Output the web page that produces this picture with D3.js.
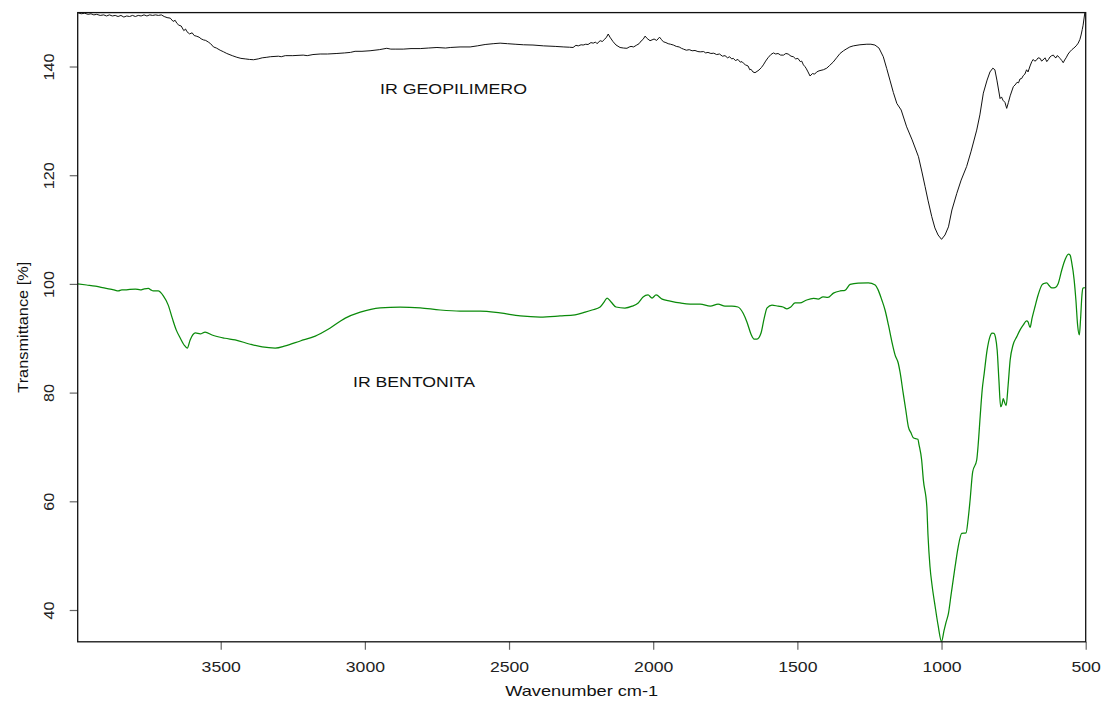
<!DOCTYPE html>
<html>
<head>
<meta charset="utf-8">
<script src="https://cdn.jsdelivr.net/npm/d3@7"></script>
<style>
  html, body { margin: 0; padding: 0; background: #fff; }
  svg { display: block; }
  text { font-family: "Liberation Sans", Arial, sans-serif; }
</style>
</head>
<body>
<svg id="chart" width="1113" height="704"></svg>
<script>
// IR spectra: geopolymer and bentonite, [wavenumber cm-1, transmittance %]
const geopolymerSpectrum = [
  [3996,149.9],[3984,149.7],[3972,149.8],[3960,149.6],[3950,149.7],[3940,149.5],[3930,149.6],[3918,149.4],
  [3906,149.5],[3896,149.3],[3886,149.5],[3876,149.3],[3866,149.4],[3856,149.2],[3846,149.4],[3836,149.1],
  [3826,149.3],[3816,149.2],[3806,149.4],[3796,149.2],[3786,149.4],[3776,149.3],[3766,149.5],[3756,149.3],
  [3746,149.5],[3736,149.4],[3726,149.5],[3716,149.4],[3706,149.5],[3696,149.2],[3686,149.0],[3675,148.9],
  [3665,148.3],[3658,148.5],[3652,147.95],[3645,147.6],[3637,147.45],[3628,146.6],[3622,146.9],[3617,146.4],
  [3608,146.0],[3599,146.2],[3592,145.7],[3585,145.6],[3575,145.4],[3568,145.1],[3560,144.9],[3552,144.8],
  [3543,144.5],[3535,144.2],[3525,143.6],[3515,143.4],[3502,143.0],[3490,142.7],[3479,142.4],[3460,142.0],
  [3444,141.7],[3430,141.5],[3415,141.4],[3400,141.3],[3386,141.25],[3370,141.4],[3356,141.6],[3340,141.7],
  [3328,141.8],[3300,141.9],[3290,141.8],[3276,142.0],[3250,142.0],[3214,142.1],[3200,142.0],[3180,142.2],
  [3155,142.3],[3130,142.3],[3097,142.4],[3070,142.5],[3050,142.6],[3034,142.8],[3010,142.8],[2982,142.9],
  [2950,143.1],[2924,143.35],[2910,143.2],[2895,143.2],[2867,143.2],[2840,143.3],[2808,143.3],[2780,143.4],
  [2750,143.5],[2720,143.4],[2704,143.5],[2670,143.6],[2635,143.6],[2610,143.8],[2583,144.05],[2555,144.2],
  [2531,144.3],[2505,144.2],[2479,144.1],[2450,144.0],[2417,143.95],[2380,143.8],[2340,143.7],[2310,143.6],
  [2290,143.55],[2278,143.5],[2268,143.9],[2260,143.8],[2250,144.0],[2243,143.95],[2234,144.1],[2226,144.05],
  [2216,144.4],[2208,144.3],[2200,144.5],[2195,144.2],[2184,144.75],[2176,144.6],[2170,144.97],[2163,145.3],
  [2156,145.98],[2150,145.4],[2139,144.56],[2129,143.96],[2115,143.5],[2103,143.4],[2091,143.35],[2083,143.6],
  [2077,143.7],[2068,143.6],[2057,143.95],[2049,144.2],[2042,144.69],[2035,145.0],[2028,145.6],[2021,145.15],
  [2011,144.75],[2004,144.9],[1997,145.06],[1988,144.8],[1978,145.4],[1972,145.0],[1965,144.56],[1956,144.4],
  [1948,144.2],[1940,144.1],[1930,143.95],[1920,143.7],[1910,143.6],[1902,143.35],[1895,143.2],[1885,143.0],
  [1875,143.1],[1865,142.9],[1855,142.95],[1845,142.75],[1837,142.7],[1825,142.75],[1818,142.5],[1810,142.6],
  [1800,142.4],[1790,142.45],[1780,142.2],[1770,142.3],[1760,141.9],[1751,142.0],[1742,141.6],[1735,141.8],
  [1728,141.4],[1722,141.5],[1715,141.1],[1706,141.3],[1698,140.8],[1692,140.9],[1687,140.6],[1680,140.3],
  [1671,140.1],[1665,139.4],[1661,139.5],[1654,139.0],[1647,138.86],[1640,139.1],[1633,139.36],[1625,139.8],
  [1618,140.3],[1610,141.0],[1602,141.6],[1592,142.2],[1583,142.5],[1575,142.3],[1567,142.4],[1558,142.1],
  [1548,142.1],[1540,142.4],[1532,142.3],[1522,141.9],[1514,141.8],[1506,141.4],[1498,141.5],[1490,140.9],
  [1485,141.0],[1479,140.3],[1474,140.0],[1470,139.7],[1463,139.0],[1456,138.25],[1448,138.7],[1440,138.6],
  [1433,139.0],[1425,139.2],[1418,139.3],[1410,139.4],[1398,139.7],[1388,140.2],[1376,140.8],[1364,141.6],
  [1352,142.4],[1340,142.9],[1331,143.2],[1318,143.6],[1306,143.8],[1283,144.0],[1259,144.1],[1245,144.1],
  [1231,143.95],[1217,143.4],[1202,141.8],[1190,139.6],[1179,137.5],[1167,135.2],[1155,133.2],[1140,132.0],
  [1121,128.9],[1102,126.5],[1080,123.4],[1068,120.6],[1057,117.9],[1047,115.4],[1034,112.4],[1023,110.3],
  [1012,109.0],[1000,108.2],[988,109.0],[976,110.5],[964,113.6],[947,116.67],[932,119.1],[913,121.6],
  [898,124.3],[878,128.3],[867,131.1],[855,135.1],[842,137.5],[832,139.0],[822,139.7],[815,139.4],
  [808,137.5],[797,134.1],[792,134.4],[787,133.8],[780,133.4],[774,132.3],[768,133.4],[762,134.6],
  [751,136.3],[745,136.6],[738,137.1],[733,137.0],[728,137.7],[722,137.8],[717,138.3],[711,138.6],
  [705,139.4],[700,139.0],[693,140.1],[687,140.9],[682,141.3],[677,141.0],[672,141.1],[665,141.6],
  [658,141.5],[653,141.0],[648,141.2],[641,141.6],[635,140.9],[629,141.3],[624,141.75],[618,142.0],
  [612,142.1],[607,141.7],[603,141.6],[599,142.0],[596,141.9],[592,141.7],[589,141.5],[583,141.1],
  [578,140.7],[573,141.2],[568,141.6],[561,142.3],[555,142.7],[548,143.1],[541,143.4],[533,143.8],
  [526,144.3],[520,145.0],[516,145.8],[512,146.8],[509,147.6],[503,149.9]
];

const bentoniteSpectrum = [
  [3996,100.0],[3965,99.8],[3935,99.6],[3910,99.3],[3883,99.06],[3870,98.9],[3855,98.7],[3843,98.9],
  [3831,98.9],[3815,99.0],[3796,99.06],[3779,98.9],[3765,99.1],[3751,99.2],[3742,98.9],[3734,98.7],
  [3717,98.7],[3699,97.8],[3682,96.1],[3668,93.7],[3654,91.5],[3640,90.0],[3627,88.76],[3616,88.2],
  [3606,89.7],[3588,90.97],[3571,90.8],[3554,91.15],[3530,90.6],[3485,90.0],[3450,89.7],[3398,88.9],
  [3356,88.4],[3311,88.2],[3276,88.6],[3224,89.5],[3172,90.4],[3120,91.9],[3068,93.7],[3016,94.8],
  [2947,95.6],[2878,95.75],[2808,95.6],[2739,95.2],[2670,95.0],[2600,95.0],[2531,94.65],[2461,94.1],
  [2392,93.9],[2323,94.1],[2271,94.3],[2236,94.8],[2212,95.2],[2184,95.75],[2170,96.7],[2160,97.4],
  [2146,96.67],[2129,95.75],[2098,95.56],[2073,95.9],[2052,96.5],[2035,97.6],[2018,97.96],[2004,97.4],
  [1990,97.96],[1969,97.2],[1941,96.85],[1907,96.5],[1872,96.3],[1837,96.3],[1802,95.9],[1775,96.3],
  [1751,95.9],[1727,95.9],[1706,95.75],[1688,94.6],[1675,93.0],[1661,90.8],[1650,89.86],[1640,89.86],
  [1626,90.97],[1615,93.7],[1605,95.6],[1588,96.1],[1567,95.9],[1550,95.75],[1536,95.4],[1523,95.75],
  [1508,96.5],[1491,96.5],[1470,97.0],[1444,97.35],[1428,97.2],[1411,97.6],[1394,97.5],[1375,98.3],
  [1352,98.7],[1335,98.8],[1317,99.9],[1289,100.16],[1254,100.2],[1230,99.8],[1220,98.9],[1207,97.03],
  [1196,95.2],[1184,92.4],[1172,89.3],[1161,86.9],[1150,85.4],[1144,83.8],[1133,79.9],[1124,76.8],
  [1115,73.7],[1106,72.6],[1098,71.7],[1082,71.4],[1078,70.4],[1069,67.6],[1063,63.9],[1051,59.0],
  [1047,53.8],[1040,47.97],[1033,44.6],[1022,40.6],[1012,37.2],[1000,34.2],[991,36.3],[984,37.8],
  [976,39.4],[967,42.77],[953,47.97],[943,51.4],[930,54.1],[915,54.2],[908,56.6],[901,60.2],
  [892,65.4],[878,67.6],[873,70.36],[866,75.6],[859,80.5],[852,83.55],[842,87.8],[832,90.3],
  [825,90.96],[818,90.9],[813,90.2],[807,87.8],[801,82.3],[795,77.4],[790,77.9],[786,78.9],
  [782,78.3],[776,77.6],[769,81.4],[762,86.0],[752,88.76],[739,90.3],[728,91.5],[717,92.4],
  [705,93.2],[700,93.0],[693,92.0],[686,93.7],[676,95.8],[665,97.96],[652,99.8],[645,100.07],
  [635,100.2],[627,99.7],[617,99.25],[606,99.3],[596,99.98],[583,102.56],[572,104.4],[560,105.5],
  [554,105.3],[549,104.08],[540,100.7],[534,97.03],[528,92.4],[522,90.6],[518,93.36],[513,97.96],
  [510,99.2],[503,99.3]
];

const xTicks = [3500, 3000, 2500, 2000, 1500, 1000, 500];
const yTicks = [40, 60, 80, 100, 120, 140];
const seriesLabels = ["IR GEOPILIMERO", "IR BENTONITA"];

const svg = d3.select("#chart");
const plot = { left: 77.7, right: 1085.7, top: 12.6, bottom: 641.8 };

const x = d3.scaleLinear().domain([3996, 500]).range([plot.left, plot.right]);
const y = d3.scaleLinear().domain([34.15, 149.92]).range([plot.bottom, plot.top]);

// clip the spectra to the plotting region
svg.append("defs").append("clipPath").attr("id", "plotClip")
  .append("rect")
  .attr("x", plot.left).attr("y", plot.top - 1)
  .attr("width", plot.right - plot.left).attr("height", plot.bottom - plot.top + 2);

const series = [
  { data: geopolymerSpectrum, color: "#111111", width: 1.0, curve: d3.curveLinear },
  { data: bentoniteSpectrum, color: "#0a8a0a", width: 1.25, curve: d3.curveMonotoneX }
];

const g = svg.append("g").attr("clip-path", "url(#plotClip)");
series.forEach(s => {
  const line = d3.line().x(d => x(d[0])).y(d => y(d[1])).curve(s.curve);
  g.append("path")
    .attr("d", line(s.data))
    .attr("fill", "none")
    .attr("stroke", s.color)
    .attr("stroke-width", s.width)
    .attr("stroke-linejoin", "round");
});

// axes
const xAxis = svg.append("g")
  .attr("transform", `translate(0,${plot.bottom})`)
  .call(d3.axisBottom(x).tickValues(xTicks).tickSize(8).tickSizeOuter(0).tickFormat(d3.format("d")));
xAxis.select(".domain").remove();
xAxis.selectAll(".tick line").attr("stroke", "#666").attr("stroke-width", 1.2);
xAxis.selectAll(".tick text")
  .attr("y", 30).attr("dy", null)
  .attr("font-size", 15)
  .attr("fill", "#222")
  .attr("textLength", d => String(d).length * 9.8)
  .attr("lengthAdjust", "spacingAndGlyphs");

const yAxis = svg.append("g")
  .attr("transform", `translate(${plot.left},0)`)
  .call(d3.axisLeft(y).tickValues(yTicks).tickSize(8).tickSizeOuter(0).tickFormat(d3.format("d")));
yAxis.select(".domain").remove();
yAxis.selectAll(".tick line").attr("stroke", "#666").attr("stroke-width", 1.2);
yAxis.selectAll(".tick text")
  .attr("x", null).attr("dy", null)
  .attr("transform", "translate(-24,0) rotate(-90)")
  .attr("text-anchor", "middle")
  .attr("font-size", 15)
  .attr("fill", "#222")
  .attr("textLength", d => String(d).length * 9)
  .attr("lengthAdjust", "spacingAndGlyphs");

// frame
svg.append("rect")
  .attr("x", plot.left).attr("y", plot.top)
  .attr("width", plot.right - plot.left).attr("height", plot.bottom - plot.top)
  .attr("fill", "none").attr("stroke", "#111").attr("stroke-width", 1.3);

// axis titles
svg.append("text")
  .attr("x", (plot.left + plot.right) / 2).attr("y", 696)
  .attr("text-anchor", "middle").attr("font-size", 15).attr("fill", "#111")
  .attr("textLength", 153).attr("lengthAdjust", "spacingAndGlyphs")
  .text("Wavenumber cm-1");

svg.append("text")
  .attr("transform", `translate(28,${(plot.top + plot.bottom) / 2}) rotate(-90)`)
  .attr("text-anchor", "middle").attr("font-size", 15).attr("fill", "#111")
  .attr("textLength", 131).attr("lengthAdjust", "spacingAndGlyphs")
  .text("Transmittance [%]");

// series annotations
svg.append("text")
  .attr("x", 380).attr("y", 94.3)
  .attr("font-size", 15).attr("fill", "#111")
  .attr("textLength", 147).attr("lengthAdjust", "spacingAndGlyphs")
  .text(seriesLabels[0]);

svg.append("text")
  .attr("x", 353).attr("y", 387)
  .attr("font-size", 15).attr("fill", "#111")
  .attr("textLength", 122).attr("lengthAdjust", "spacingAndGlyphs")
  .text(seriesLabels[1]);
</script>
</body>
</html>
